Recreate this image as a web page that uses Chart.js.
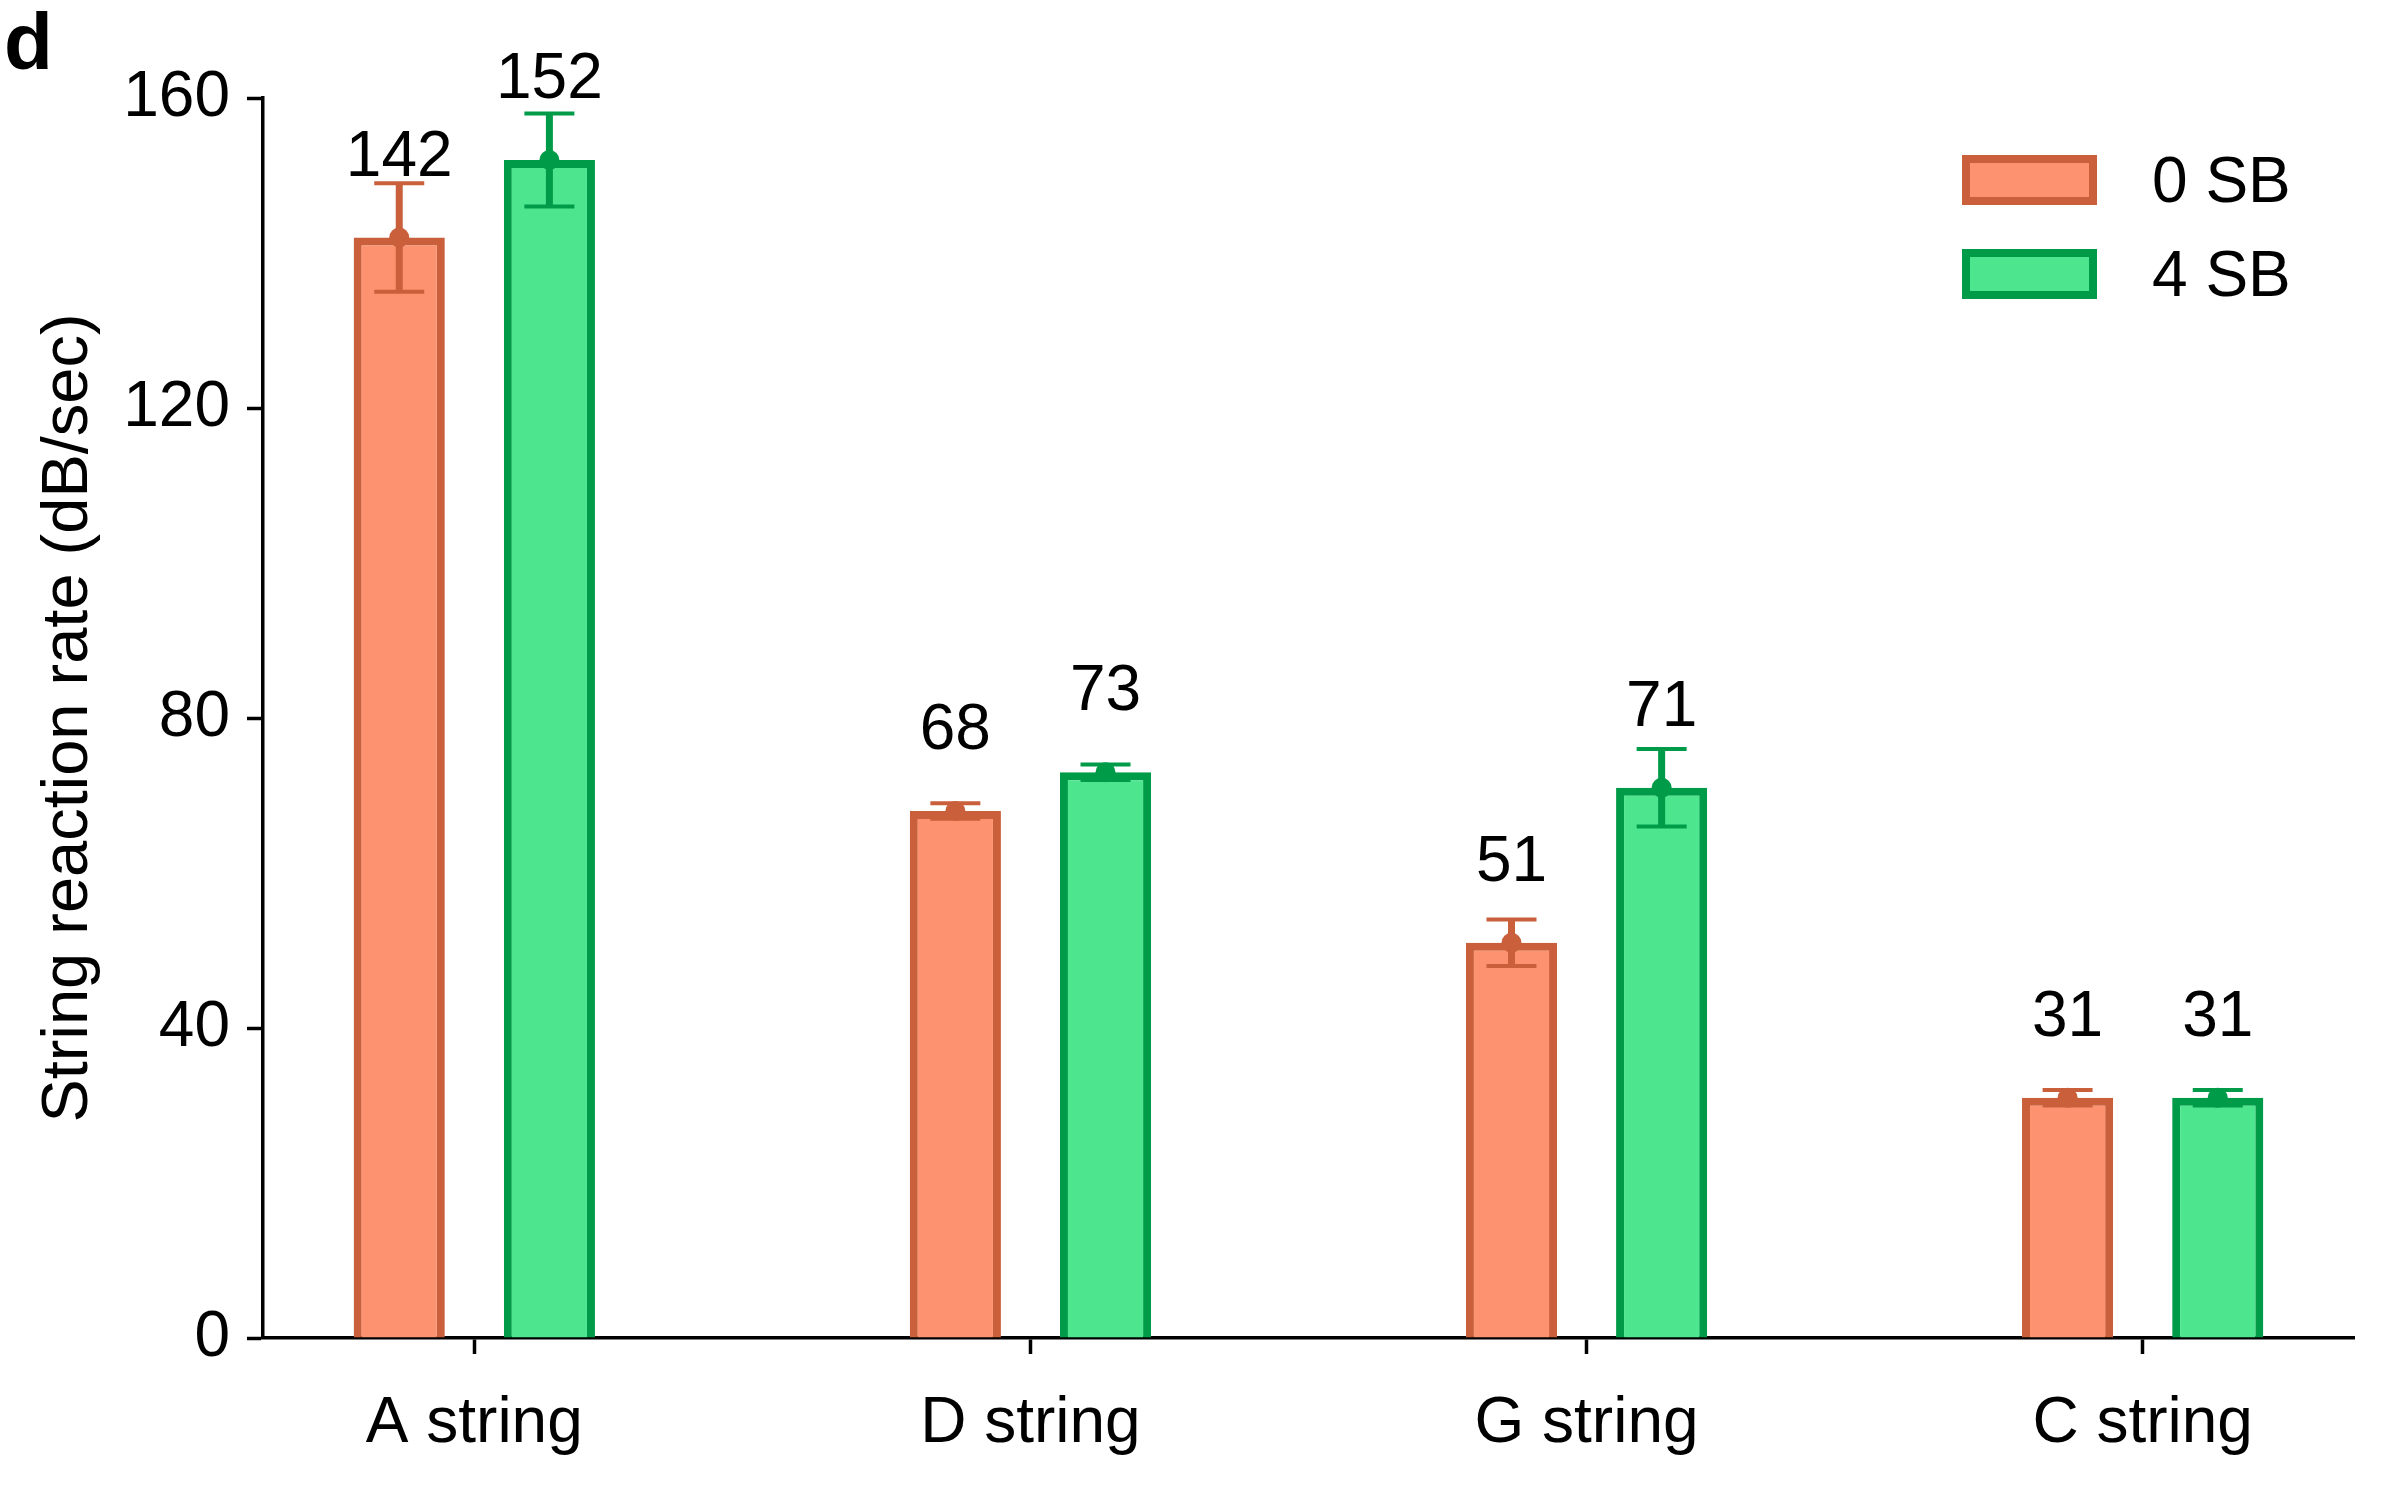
<!DOCTYPE html>
<html>
<head>
<meta charset="utf-8">
<script src="https://cdn.jsdelivr.net/npm/chart.js@4"></script>
<style>
    body { margin: 0; background: #fff; }
    canvas { display: block; }
</style>
</head>
<body>
<canvas id="chart" width="2400" height="1500"></canvas>
<script>
const categories = ['A string', 'D string', 'G string', 'C string'];
const seriesNames = ['0 SB', '4 SB'];
const values0SB = [142, 68, 51, 31];
const values4SB = [152, 73, 71, 31];
const errors0SB = [7, 1, 3, 1];
const errors4SB = [6, 1, 5, 1];
const yTicks = [0, 40, 80, 120, 160];

const FONT = "'Liberation Sans', Arial, sans-serif";
const fills = ['#fd9270', '#4de68f'];
const borders = ['#c9603b', '#009b48'];
const errors = [errors0SB, errors4SB];

function toPoints(vals) {
    return vals.map((v, i) => ({ x: i, y: v }));
}

// error bars + value labels on top of the bars
const errorBarPlugin = {
    id: 'errorBars',
    afterDatasetsDraw(chart) {
        const ctx = chart.ctx;
        const yScale = chart.scales.y;
        chart.data.datasets.forEach((ds, di) => {
            const meta = chart.getDatasetMeta(di);
            meta.data.forEach((bar, i) => {
                const v = ds.data[i].y;
                const err = errors[di][i];
                const yTop = yScale.getPixelForValue(v + err);
                const yBot = yScale.getPixelForValue(v - err);
                const yMid = yScale.getPixelForValue(v);
                ctx.save();
                ctx.strokeStyle = borders[di];
                ctx.fillStyle = borders[di];
                ctx.lineWidth = 7;
                ctx.beginPath();
                ctx.moveTo(bar.x, yTop);
                ctx.lineTo(bar.x, yBot);
                ctx.stroke();
                ctx.lineWidth = 4;
                ctx.beginPath();
                ctx.moveTo(bar.x - 25, yTop);
                ctx.lineTo(bar.x + 25, yTop);
                ctx.moveTo(bar.x - 25, yBot);
                ctx.lineTo(bar.x + 25, yBot);
                ctx.stroke();
                ctx.beginPath();
                ctx.arc(bar.x, yMid, 10, 0, Math.PI * 2);
                ctx.fill();
                ctx.fillStyle = '#000';
                ctx.font = '64px ' + FONT;
                ctx.textAlign = 'center';
                ctx.textBaseline = 'alphabetic';
                ctx.fillText(String(v), bar.x, yMid - 62);
                ctx.restore();
            });
        });
    }
};

// legend in the top right corner and the panel letter
const decorPlugin = {
    id: 'decor',
    afterDraw(chart) {
        const ctx = chart.ctx;
        ctx.save();
        ctx.fillStyle = '#000';
        ctx.font = 'bold 80px ' + FONT;
        ctx.textAlign = 'left';
        ctx.textBaseline = 'alphabetic';
        ctx.fillText('d', 4, 69);

        seriesNames.forEach((name, i) => {
            const x = 1962, y = 155 + i * 94, w = 135, h = 50;
            ctx.fillStyle = borders[i];
            ctx.fillRect(x, y, w, h);
            ctx.fillStyle = fills[i];
            ctx.fillRect(x + 8, y + 8, w - 16, h - 16);
            ctx.fillStyle = '#000';
            ctx.font = '64px ' + FONT;
            ctx.textBaseline = 'middle';
            ctx.fillText(name, 2152, y + h / 2 + 4);
        });
        ctx.restore();
    }
};

const ctx = document.getElementById('chart').getContext('2d');
new Chart(ctx, {
    type: 'bar',
    data: {
        datasets: [
            {
                label: seriesNames[0],
                data: toPoints(values0SB),
                backgroundColor: fills[0],
                borderColor: borders[0],
                borderWidth: 8
            },
            {
                label: seriesNames[1],
                data: toPoints(values4SB),
                backgroundColor: fills[1],
                borderColor: borders[1],
                borderWidth: 8
            }
        ]
    },
    options: {
        responsive: false,
        animation: false,
        devicePixelRatio: 1,
        categoryPercentage: 0.54,
        barPercentage: 0.607,
        layout: { padding: { top: 98, right: 46, left: 0, bottom: 0 } },
        plugins: {
            legend: { display: false },
            tooltip: { enabled: false }
        },
        scales: {
            x: {
                type: 'linear',
                min: -0.38,
                max: 3.38,
                offset: false,
                afterBuildTicks: (s) => { s.ticks = categories.map((c, i) => ({ value: i })); },
                afterFit: (s) => {
                    s.height = 162;
                    s.paddingLeft = 0; s.paddingRight = 0;
                },
                ticks: {
                    callback: (v) => categories[v],
                    font: { size: 64, family: FONT },
                    color: '#000',
                    padding: 32,
                    maxRotation: 0,
                    autoSkip: false
                },
                grid: { display: true, offset: false, drawOnChartArea: false, drawTicks: true, tickLength: 16, tickWidth: 3.5, tickColor: '#000' },
                border: { display: true, color: '#000', width: 3.5 }
            },
            y: {
                min: 0,
                max: 160,
                afterBuildTicks: (s) => { s.ticks = yTicks.map(v => ({ value: v })); },
                afterFit: (s) => {
                    s.width = 263;
                    s.paddingTop = 0; s.paddingBottom = 0;
                },
                ticks: {
                    font: { size: 64, family: FONT },
                    color: '#000',
                    padding: 17
                },
                grid: { display: true, drawOnChartArea: false, drawTicks: true, tickLength: 16, tickWidth: 3.5, tickColor: '#000' },
                border: { display: true, color: '#000', width: 3.5 },
                title: {
                    display: true,
                    text: 'String reaction rate (dB/sec)',
                    font: { size: 65, family: FONT },
                    color: '#000',
                    padding: { top: 30, bottom: 0 }
                }
            }
        }
    },
    plugins: [errorBarPlugin, decorPlugin]
});
</script>
</body>
</html>
